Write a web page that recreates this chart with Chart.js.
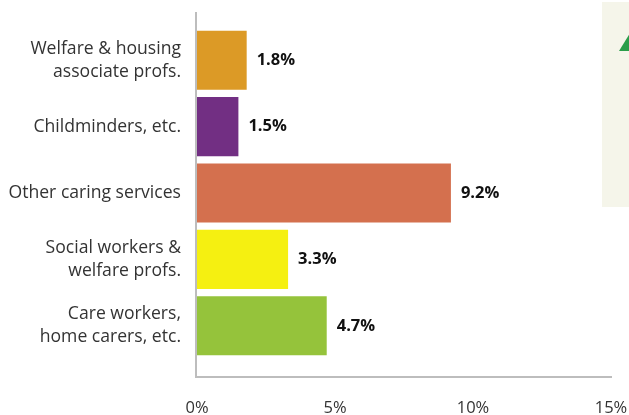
<!DOCTYPE html>
<html>
<head>
<meta charset="utf-8">
<script src="https://cdn.jsdelivr.net/npm/chart.js@4"></script>
<style>
	html, body { margin: 0; padding: 0; background: #ffffff; }
	#wrap { width: 629px; height: 415px; position: relative; }
</style>
</head>
<body>
<div id="wrap"><canvas id="careChart"></canvas></div>
<script>
// categories, top to bottom
var categories = [
	['Welfare & housing', 'associate profs.'],
	'Childminders, etc.',
	'Other caring services',
	['Social workers &', 'welfare profs.'],
	['Care workers,', 'home carers, etc.']
];
var shares = [1.8, 1.5, 9.2, 3.3, 4.7];
var barColours = ['#dc9a26', '#722f83', '#d4704e', '#f5f011', '#95c33b'];
var xTicks = [0, 5, 10, 15];

// side panel + axis lines
var decoPlugin = {
	id: 'deco',
	beforeDraw: function (chart) {
		var ctx = chart.ctx;
		ctx.save();
		ctx.fillStyle = '#f5f5ea';
		ctx.fillRect(602, 2, 30, 205);
		ctx.fillStyle = '#2a9d4a';
		ctx.beginPath();
		ctx.moveTo(619, 51);
		ctx.lineTo(641, 51);
		ctx.lineTo(630, 33);
		ctx.closePath();
		ctx.fill();
		ctx.restore();
	},
	afterDatasetsDraw: function (chart) {
		var ctx = chart.ctx;
		var x = chart.scales.x;
		var x0 = x.getPixelForValue(0) - 1;
		var x1 = x.getPixelForValue(15) + 1;
		ctx.save();
		ctx.strokeStyle = '#bdbdbd';
		ctx.lineWidth = 2;
		ctx.beginPath();
		ctx.moveTo(x0, 12);
		ctx.lineTo(x0, 377);
		ctx.lineTo(x1, 377);
		ctx.stroke();
		ctx.restore();
	}
};

// value labels at the end of each bar
var valueLabels = {
	id: 'valueLabels',
	afterDatasetsDraw: function (chart) {
		var ctx = chart.ctx;
		var meta = chart.getDatasetMeta(0);
		ctx.save();
		ctx.font = 'bold 16.5px "Open Sans"';
		ctx.fillStyle = '#111111';
		ctx.textAlign = 'left';
		ctx.textBaseline = 'middle';
		meta.data.forEach(function (bar, i) {
			ctx.fillText(shares[i].toFixed(1) + '%', bar.x + 10, bar.y);
		});
		ctx.restore();
	}
};

new Chart(document.getElementById('careChart').getContext('2d'), {
	type: 'bar',
	data: {
		labels: categories,
		datasets: [{
			data: shares,
			backgroundColor: barColours,
			borderWidth: 0,
			barPercentage: 0.89,
			categoryPercentage: 1
		}]
	},
	options: {
		indexAxis: 'y',
		responsive: true,
		maintainAspectRatio: false,
		animation: false,
		layout: { padding: { top: 27, right: 18, left: 0, bottom: 0 } },
		plugins: {
			legend: { display: false },
			tooltip: { enabled: false }
		},
		scales: {
			x: {
				min: 0,
				max: 15,
				afterBuildTicks: function (scale) {
					scale.ticks = xTicks.map(function (v) { return { value: v }; });
				},
				afterFit: function (scale) {
					scale.height = 56;
					scale.paddingLeft = 0;
					scale.paddingRight = 0;
				},
				grid: { display: false, drawTicks: false },
				border: { display: false },
				ticks: {
					padding: 39,
					color: '#333333',
					font: { family: 'Open Sans', size: 16.5 },
					callback: function (v) { return v + '%'; }
				}
			},
			y: {
				afterFit: function (scale) {
					scale.width = 197;
					scale.paddingTop = 0;
					scale.paddingBottom = 0;
				},
				grid: { display: false, drawTicks: false },
				border: { display: false },
				ticks: {
					padding: 16,
					color: '#333333',
					font: { family: 'Open Sans', size: 17.6, lineHeight: 1.3 }
				}
			}
		}
	},
	plugins: [decoPlugin, valueLabels]
});
</script>
</body>
</html>
